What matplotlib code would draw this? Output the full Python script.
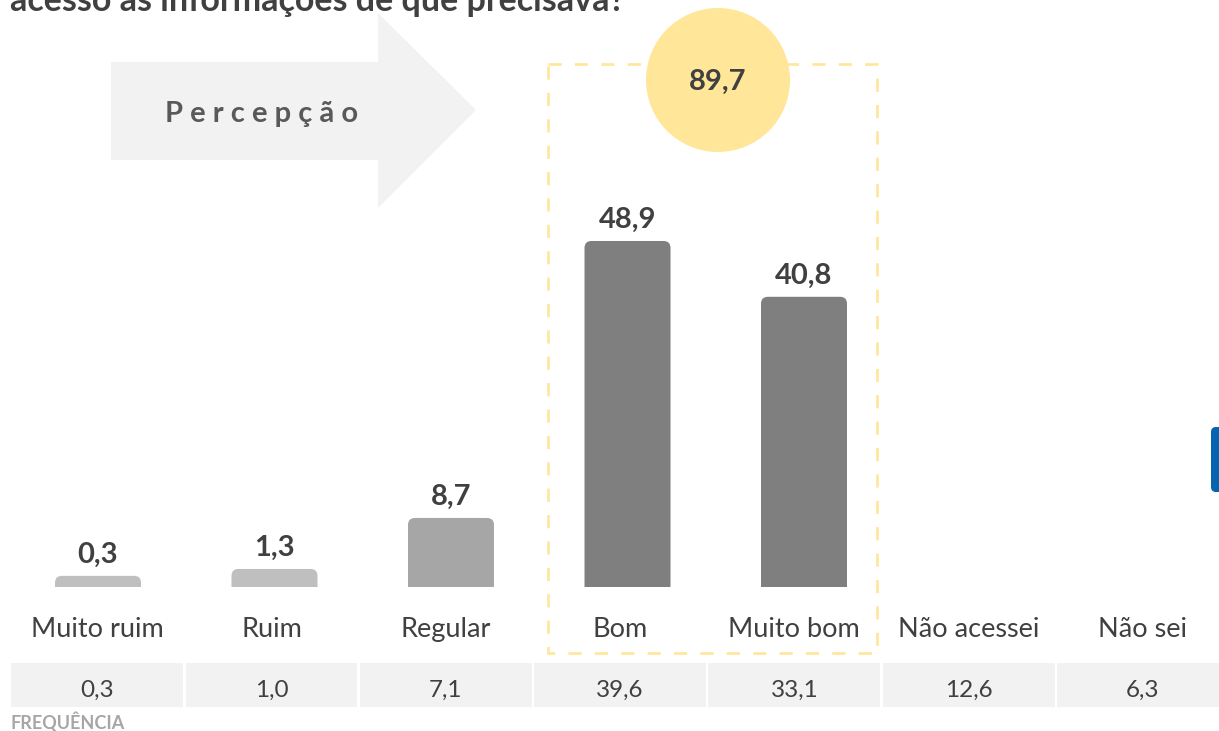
import matplotlib
matplotlib.use("Agg")
import matplotlib.pyplot as plt
from matplotlib.patches import FancyBboxPatch, Polygon, Circle, Rectangle

plt.rcParams['font.family'] = ['Lato', 'DejaVu Sans']

# data
categorias = ["Muito ruim", "Ruim", "Regular", "Bom", "Muito bom", "Não acessei", "Não sei"]
percepcao = [0.3, 1.3, 8.7, 48.9, 40.8]
frequencia = [0.3, 1.0, 7.1, 39.6, 33.1, 12.6, 6.3]
destaque = 89.7
cores_barras = ["#bfbfbf", "#bfbfbf", "#a6a6a6", "#7f7f7f", "#7f7f7f"]

W, H = 1219, 731
TXT = "#404040"


def fmt(v):
    return f"{v:.1f}".replace(".", ",")


fig = plt.figure(figsize=(W / 100, H / 100), dpi=100)

# overlay in pixel coordinates for the decorations
deco = fig.add_axes([0, 0, 1, 1])
deco.set_xlim(0, W)
deco.set_ylim(H, 0)
deco.axis("off")

# "Percepção" arrow
deco.add_patch(Polygon([(111, 62), (378, 62), (378, 13), (476, 110), (378, 208), (378, 160), (111, 160)],
                       closed=True, facecolor="#f2f2f2", edgecolor="none"))
deco.text(165, 122, "P e r c e p ç ã o", ha="left", va="baseline", fontsize=21,
          fontweight="bold", color="#595959")

# dashed highlight box + circle
deco.add_patch(Rectangle((548, 64), 329, 589, fill=False, edgecolor="#ffe699",
                         linewidth=1.9, linestyle=(0, (5, 5))))
deco.add_patch(Circle((718, 80), 72, facecolor="#ffe699", edgecolor="none"))
deco.text(718, 90, fmt(destaque), ha="center", va="baseline", fontsize=21,
          fontweight="bold", color=TXT)

# blue tab on the right edge
deco.add_patch(FancyBboxPatch((1211, 427), 30, 65, boxstyle="round,pad=0,rounding_size=5",
                              facecolor="#0563b0", edgecolor="none"))

# bars
px_x = 176.5
px_y = 6.89
base = 587
off = 1.32
ax = fig.add_axes([9.75 / W, 1 - base / H, 7 * px_x / W, base / H])
ax.patch.set_visible(False)
ax.set_xlim(-0.5, 6.5)
ax.set_ylim(-off, -off + base / px_y)
ax.axis("off")
bw = 86 / px_x
for i, v in enumerate(percepcao):
    ax.add_patch(FancyBboxPatch((i - bw / 2, -off - 3), bw, v + off + 3,
                                boxstyle=f"round,pad=0,rounding_size={7 / px_x}",
                                mutation_aspect=px_x / px_y,
                                facecolor=cores_barras[i], edgecolor="none"))
    ax.annotate(fmt(v), (i, v), xytext=(0, 9.4), textcoords="offset points",
                ha="center", va="baseline", fontsize=21, fontweight="bold", color=TXT)

# table of frequencies + category labels
pitch = 174.3
tb = fig.add_axes([10 / W, 1 - 707 / H, 7 * pitch / W, 44 / H])
tb.patch.set_visible(False)
tb.set_xlim(-0.5, 6.5)
tb.set_ylim(0, 1)
tb.axis("off")
tb.bar(range(len(frequencia)), 1, width=1 - 2.5 / pitch, bottom=0, color="#f2f2f2")
for i, (c, f) in enumerate(zip(categorias, frequencia)):
    tb.text(i, (707 - 697) / 44, fmt(f), ha="center", va="baseline", fontsize=17.5, color=TXT)
    tb.text(i, (707 - 637) / 44, c, ha="center", va="baseline", fontsize=19.5,
            color=TXT, clip_on=False)

fig.text(10 / W, 1 - 730 / H, "FREQUÊNCIA", ha="left", va="baseline", fontsize=13,
         fontweight="bold", color="#a6a6a6")
fig.text(10 / W, 1 - 11 / H, "acesso às informações de que precisava?", ha="left",
         va="baseline", fontsize=24.5, fontweight="bold", color=TXT)

fig.savefig("out.png", dpi=100)
